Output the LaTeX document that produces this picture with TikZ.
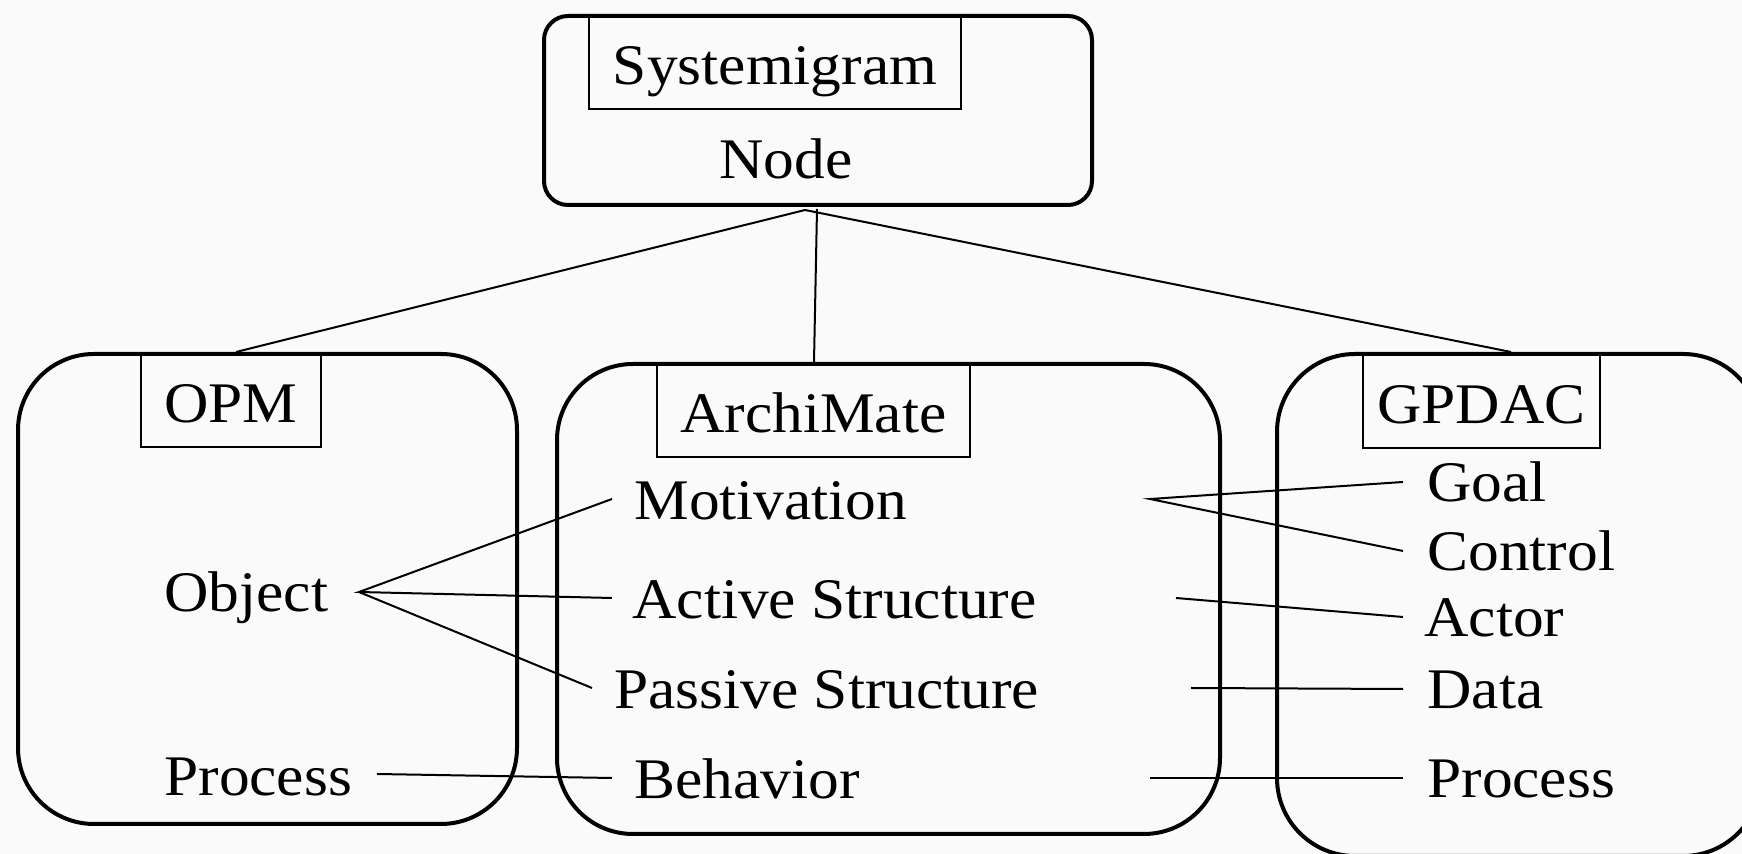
\documentclass[tikz,border=0pt]{standalone}
\usepackage{fontspec}
\setmainfont[FakeStretch=1.07]{Liberation Serif}
\usetikzlibrary{calc}
\begin{document}
\begin{tikzpicture}[x=0.5pt,y=-0.5pt,
  txt/.style={font=\fontsize{28.7pt}{34pt}\selectfont, inner sep=0pt},
  lbl/.style={txt, anchor=base west},
  bigbox/.style={draw, line width=2pt, rounded corners=38pt, inner sep=0pt},
  tagbox/.style={txt, draw, line width=0.75pt, text height=25pt, text depth=2.5pt},
  link/.style={line width=1pt}]

% canvas
\useasboundingbox (0,0) rectangle (1742,854);
\clip (0,0) rectangle (1742,854);
\fill[white!98!black] (0,0) rectangle (1742,854);

% framed groups
\node[bigbox, rounded corners=12pt, minimum width=274pt, minimum height=94.5pt] (top) at (818,110.5) {};
\node[bigbox, minimum width=249.5pt, minimum height=235pt] (opm) at (267.5,589) {};
\node[bigbox, minimum width=331.5pt, minimum height=235pt] (archi) at (888.5,599) {};
\node[bigbox, rounded corners=39pt, minimum width=242pt, minimum height=251pt] (gp) at (1519,605) {};

% group titles
\node[tagbox, minimum width=186pt, minimum height=46.5pt] (systag) at (775,62.5) {Systemigram};
\node[tagbox, minimum width=90pt, minimum height=46.5pt] (opmtag) at (231,400.5) {OPM};
\node[tagbox, minimum width=156.5pt, minimum height=46.5pt] (architag) at (813.5,410.5) {ArchiMate};
\node[tagbox, minimum width=118.5pt, minimum height=47pt] (gptag) at (1481.5,401) {GPDAC};

% concepts
\node[lbl] (node) at (719,179) {Node};
\node[lbl] (obj) at (164,612) {Object};
\node[lbl] (oproc) at (164,796) {Process};
\node[lbl] (mot) at (634,520) {Motivation};
\node[lbl] (act) at (632,619) {Active Structure};
\node[lbl] (pas) at (614,709) {Passive Structure};
\node[lbl] (beh) at (634,799) {Behavior};
\node[lbl] (goal) at (1427,502) {Goal};
\node[lbl] (ctrl) at (1427,571) {Control};
\node[lbl] (actor) at (1424,637) {Actor};
\node[lbl] (data) at (1427,709) {Data};
\node[lbl] (gproc) at (1427,798) {Process};

% Systemigram node to the three languages
\draw[link] ($(top.south)+(-13,3)$) -- ($(opm.north)+(-31.5,0)$);
\draw[link] ($(top.south)+(-1,2)$) -- ($(archi.north)+(-74.5,0)$);
\draw[link] ($(top.south)+(-13,3)$) -- ($(gp.north)+(-8,0)$);

% OPM to ArchiMate
\draw[link] ($(mot.base west)+(-22,-21)$) -- ($(obj.base west)+(195,-20)$)
  -- ($(act.base west)+(-20,-21)$);
\draw[link] ($(obj.base west)+(195,-20)$) -- ($(pas.base west)+(-22,-21)$);
\draw[link] ($(oproc.base west)+(213,-22)$) -- ($(beh.base west)+(-22,-21)$);

% ArchiMate to GPDAC
\draw[link] ($(goal.base west)+(-24,-20)$) -- ($(mot.base west)+(516,-21)$)
  -- ($(ctrl.base west)+(-24,-20)$);
\draw[link] ($(act.base west)+(544,-21)$) -- ($(actor.base west)+(-21,-20)$);
\draw[link] ($(pas.base west)+(577,-21)$) -- ($(data.base west)+(-24,-20)$);
\draw[link] ($(beh.base west)+(516,-21)$) -- ($(gproc.base west)+(-24,-20)$);
\end{tikzpicture}
\end{document}
